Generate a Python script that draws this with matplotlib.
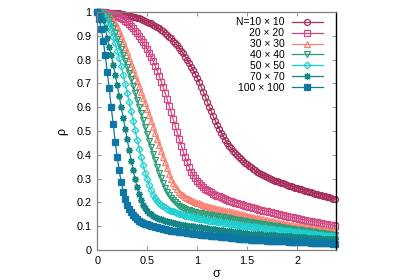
import numpy as np
import matplotlib
matplotlib.use("Agg")
import matplotlib.pyplot as plt
from matplotlib.ticker import FormatStrFormatter

plt.rcParams["font.family"] = ["Liberation Sans", "DejaVu Sans"]

# sigma sampled every 0.02 from 0 to 2.38
sigma = np.round(np.arange(120) * 0.02, 2)

rho_10 = [
    1.000, 1.000, 1.000, 1.000, 0.999, 0.999, 0.998, 0.998, 0.997, 0.996,
    0.995, 0.994, 0.992, 0.991, 0.989, 0.987, 0.985, 0.983, 0.981, 0.978,
    0.976, 0.973, 0.970, 0.967, 0.963, 0.960, 0.956, 0.952, 0.947, 0.942,
    0.937, 0.931, 0.925, 0.919, 0.912, 0.905, 0.897, 0.889, 0.880, 0.870,
    0.860, 0.849, 0.838, 0.826, 0.813, 0.800, 0.786, 0.771, 0.756, 0.740,
    0.723, 0.705, 0.686, 0.666, 0.645, 0.624, 0.603, 0.583, 0.563, 0.544,
    0.526, 0.509, 0.493, 0.478, 0.464, 0.451, 0.439, 0.428, 0.418, 0.408,
    0.399, 0.390, 0.382, 0.374, 0.367, 0.360, 0.353, 0.347, 0.341, 0.335,
    0.330, 0.325, 0.320, 0.316, 0.312, 0.308, 0.304, 0.300, 0.296, 0.292,
    0.289, 0.286, 0.283, 0.280, 0.277, 0.274, 0.271, 0.268, 0.265, 0.262,
    0.260, 0.257, 0.255, 0.252, 0.249, 0.247, 0.244, 0.242, 0.239, 0.237,
    0.234, 0.232, 0.230, 0.227, 0.225, 0.223, 0.221, 0.218, 0.216, 0.214,
]
rho_20 = [
    1.000, 1.000, 0.999, 0.999, 0.998, 0.997, 0.995, 0.993, 0.991, 0.988,
    0.985, 0.981, 0.976, 0.970, 0.964, 0.957, 0.949, 0.940, 0.931, 0.921,
    0.910, 0.899, 0.887, 0.874, 0.860, 0.845, 0.829, 0.812, 0.794, 0.774,
    0.753, 0.731, 0.708, 0.684, 0.659, 0.633, 0.606, 0.578, 0.550, 0.522,
    0.494, 0.466, 0.439, 0.414, 0.390, 0.368, 0.348, 0.330, 0.315, 0.302,
    0.291, 0.281, 0.273, 0.265, 0.258, 0.252, 0.247, 0.242, 0.237, 0.233,
    0.229, 0.225, 0.221, 0.218, 0.214, 0.211, 0.208, 0.205, 0.202, 0.199,
    0.197, 0.194, 0.192, 0.189, 0.187, 0.184, 0.182, 0.179, 0.177, 0.175,
    0.173, 0.170, 0.168, 0.166, 0.164, 0.162, 0.160, 0.158, 0.156, 0.154,
    0.152, 0.150, 0.148, 0.146, 0.144, 0.142, 0.140, 0.138, 0.137, 0.135,
    0.133, 0.131, 0.130, 0.128, 0.126, 0.124, 0.123, 0.121, 0.119, 0.118,
    0.116, 0.114, 0.113, 0.111, 0.110, 0.108, 0.107, 0.105, 0.104, 0.102,
]
rho_30 = [
    1.000, 1.000, 0.999, 0.997, 0.994, 0.990, 0.984, 0.976, 0.966, 0.954,
    0.940, 0.922, 0.901, 0.878, 0.855, 0.831, 0.807, 0.783, 0.759, 0.735,
    0.711, 0.688, 0.664, 0.640, 0.616, 0.592, 0.568, 0.543, 0.518, 0.493,
    0.468, 0.443, 0.418, 0.393, 0.368, 0.344, 0.321, 0.300, 0.282, 0.267,
    0.255, 0.245, 0.237, 0.230, 0.224, 0.219, 0.214, 0.210, 0.206, 0.202,
    0.199, 0.196, 0.193, 0.190, 0.187, 0.185, 0.182, 0.180, 0.178, 0.176,
    0.174, 0.172, 0.170, 0.168, 0.166, 0.164, 0.162, 0.160, 0.158, 0.156,
    0.154, 0.152, 0.150, 0.148, 0.146, 0.144, 0.142, 0.140, 0.138, 0.136,
    0.135, 0.133, 0.131, 0.129, 0.127, 0.126, 0.124, 0.122, 0.120, 0.118,
    0.117, 0.115, 0.113, 0.112, 0.110, 0.108, 0.107, 0.105, 0.104, 0.102,
    0.101, 0.100, 0.098, 0.097, 0.096, 0.095, 0.093, 0.092, 0.091, 0.090,
    0.088, 0.087, 0.086, 0.085, 0.084, 0.083, 0.082, 0.081, 0.080, 0.079,
]
rho_40 = [
    1.000, 0.999, 0.997, 0.993, 0.987, 0.978, 0.966, 0.950, 0.931, 0.910,
    0.888, 0.866, 0.843, 0.820, 0.796, 0.771, 0.745, 0.718, 0.690, 0.661,
    0.632, 0.603, 0.574, 0.545, 0.516, 0.488, 0.460, 0.432, 0.404, 0.377,
    0.350, 0.325, 0.301, 0.280, 0.261, 0.245, 0.231, 0.219, 0.209, 0.200,
    0.193, 0.187, 0.182, 0.177, 0.173, 0.170, 0.167, 0.164, 0.161, 0.159,
    0.157, 0.155, 0.154, 0.152, 0.151, 0.149, 0.148, 0.146, 0.145, 0.143,
    0.142, 0.140, 0.139, 0.137, 0.136, 0.134, 0.133, 0.131, 0.130, 0.128,
    0.127, 0.125, 0.124, 0.122, 0.121, 0.119, 0.118, 0.116, 0.115, 0.114,
    0.112, 0.111, 0.110, 0.108, 0.107, 0.105, 0.104, 0.103, 0.101, 0.100,
    0.099, 0.097, 0.096, 0.094, 0.093, 0.092, 0.090, 0.089, 0.088, 0.086,
    0.085, 0.084, 0.083, 0.082, 0.080, 0.079, 0.078, 0.077, 0.076, 0.075,
    0.073, 0.072, 0.071, 0.070, 0.069, 0.068, 0.066, 0.065, 0.064, 0.063,
]
rho_50 = [
    1.000, 0.999, 0.996, 0.989, 0.977, 0.960, 0.942, 0.920, 0.895, 0.868,
    0.838, 0.806, 0.772, 0.736, 0.699, 0.661, 0.622, 0.583, 0.543, 0.503,
    0.464, 0.426, 0.390, 0.356, 0.325, 0.297, 0.272, 0.251, 0.233, 0.218,
    0.206, 0.197, 0.190, 0.184, 0.179, 0.174, 0.170, 0.166, 0.162, 0.159,
    0.156, 0.153, 0.150, 0.148, 0.145, 0.143, 0.141, 0.139, 0.137, 0.135,
    0.133, 0.132, 0.130, 0.129, 0.127, 0.126, 0.124, 0.123, 0.122, 0.120,
    0.119, 0.118, 0.116, 0.115, 0.114, 0.112, 0.111, 0.110, 0.108, 0.107,
    0.106, 0.105, 0.103, 0.102, 0.101, 0.100, 0.099, 0.098, 0.097, 0.096,
    0.095, 0.094, 0.093, 0.092, 0.091, 0.090, 0.089, 0.088, 0.087, 0.086,
    0.085, 0.084, 0.083, 0.082, 0.081, 0.080, 0.079, 0.078, 0.077, 0.076,
    0.075, 0.074, 0.073, 0.072, 0.071, 0.070, 0.069, 0.068, 0.067, 0.066,
    0.065, 0.064, 0.063, 0.062, 0.061, 0.060, 0.059, 0.058, 0.057, 0.056,
]
rho_70 = [
    1.000, 0.997, 0.988, 0.968, 0.932, 0.892, 0.855, 0.818, 0.779, 0.737,
    0.693, 0.648, 0.602, 0.556, 0.510, 0.465, 0.420, 0.376, 0.335, 0.297,
    0.263, 0.234, 0.210, 0.191, 0.176, 0.165, 0.157, 0.150, 0.145, 0.140,
    0.136, 0.132, 0.129, 0.126, 0.123, 0.121, 0.118, 0.116, 0.114, 0.112,
    0.110, 0.109, 0.107, 0.106, 0.104, 0.103, 0.102, 0.100, 0.099, 0.098,
    0.097, 0.096, 0.095, 0.094, 0.092, 0.091, 0.090, 0.089, 0.088, 0.087,
    0.086, 0.085, 0.084, 0.083, 0.082, 0.081, 0.080, 0.078, 0.077, 0.076,
    0.075, 0.074, 0.073, 0.072, 0.071, 0.070, 0.069, 0.069, 0.068, 0.068,
    0.067, 0.066, 0.066, 0.065, 0.065, 0.064, 0.063, 0.063, 0.062, 0.062,
    0.061, 0.060, 0.060, 0.059, 0.059, 0.058, 0.057, 0.057, 0.056, 0.056,
    0.055, 0.054, 0.054, 0.053, 0.053, 0.052, 0.051, 0.051, 0.050, 0.050,
    0.049, 0.049, 0.048, 0.048, 0.047, 0.047, 0.046, 0.046, 0.045, 0.045,
]
rho_100 = [
    1.000, 0.970, 0.930, 0.880, 0.820, 0.750, 0.680, 0.600, 0.530, 0.455,
    0.390, 0.335, 0.285, 0.245, 0.215, 0.190, 0.172, 0.158, 0.147, 0.138,
    0.130, 0.124, 0.119, 0.115, 0.111, 0.108, 0.106, 0.103, 0.100, 0.097,
    0.095, 0.093, 0.091, 0.089, 0.087, 0.085, 0.083, 0.082, 0.080, 0.079,
    0.078, 0.077, 0.076, 0.075, 0.074, 0.073, 0.072, 0.071, 0.069, 0.068,
    0.067, 0.066, 0.065, 0.064, 0.063, 0.062, 0.062, 0.061, 0.060, 0.059,
    0.058, 0.057, 0.056, 0.055, 0.054, 0.054, 0.053, 0.052, 0.051, 0.050,
    0.049, 0.048, 0.047, 0.047, 0.046, 0.045, 0.045, 0.044, 0.044, 0.043,
    0.043, 0.042, 0.042, 0.041, 0.041, 0.040, 0.040, 0.039, 0.039, 0.038,
    0.038, 0.037, 0.037, 0.036, 0.036, 0.036, 0.035, 0.035, 0.034, 0.034,
    0.034, 0.033, 0.033, 0.033, 0.032, 0.032, 0.032, 0.031, 0.031, 0.031,
    0.030, 0.030, 0.030, 0.029, 0.029, 0.028, 0.028, 0.028, 0.027, 0.027,
]

labels = ["N=10 \u00d7 10", "20 \u00d7 20", "30 \u00d7 30", "40 \u00d7 40",
          "50 \u00d7 50", "70 \u00d7 70", "100 \u00d7 100"]
series = [rho_10, rho_20, rho_30, rho_40, rho_50, rho_70, rho_100]
colors = ["#a52d5c", "#cf4a82", "#fa8072", "#2e9e7a", "#1ecfcf", "#168585", "#0f77a6"]
markers = ["o", "s", "^", "v", "D", (8, 2, 0), "s"]
msizes = [4.3, 4.3, 4.3, 4.3, 3.4, 5, 3.7]
filled = [False, False, False, False, False, False, True]

fig = plt.figure(figsize=(4, 2.8), dpi=100)
ax = fig.add_axes([0.243, 0.107, 0.5975, 0.85])

for y, lab, c, m, ms, f in zip(series, labels, colors, markers, msizes, filled):
    ax.plot(sigma, y, color=c, lw=0.9, marker=m, ms=ms, mew=0.9,
            mfc=c if f else "none", mec=c, label=lab, clip_on=False)

ax.set_xlim(0, 2.39)
ax.set_ylim(0, 1)
ax.set_xticks([0, 0.5, 1, 1.5, 2])
ax.set_yticks(np.arange(0, 1.01, 0.1))
ax.xaxis.set_major_formatter(FormatStrFormatter("%g"))
ax.yaxis.set_major_formatter(FormatStrFormatter("%g"))
ax.tick_params(direction="in", length=3, width=0.6, color="#808080",
               labelsize=7.8, top=True, right=True, pad=4)
for s in ["left", "bottom", "top"]:
    ax.spines[s].set_color("#808080")
    ax.spines[s].set_linewidth(0.9)
ax.spines["right"].set_color("black")
ax.spines["right"].set_linewidth(1.0)

ax.set_xlabel("\u03c3", fontsize=9, labelpad=2)
ax.set_ylabel("\u03c1", fontsize=9, labelpad=6)

ax.legend(loc="upper right", bbox_to_anchor=(0.944, 0.978), frameon=False,
          fontsize=7.5, markerfirst=False, handlelength=3.0, handletextpad=0.7,
          labelspacing=0.09, borderpad=0, borderaxespad=0)

fig.savefig("out.png", dpi=100)
